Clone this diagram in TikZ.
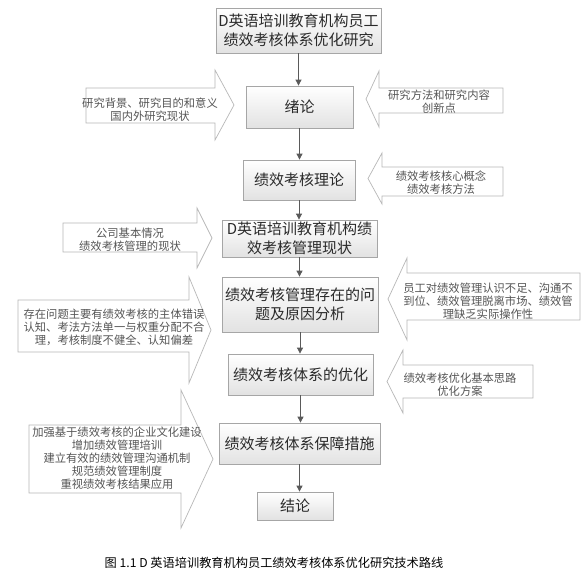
\documentclass[tikz,border=0pt]{standalone}
\usepackage{fontspec}
\setmainfont{Noto Sans CJK SC}
\usetikzlibrary{arrows.meta}
\definecolor{boxborder}{HTML}{A6A6A6}
\definecolor{boxfill}{HTML}{E2E2E2}
\definecolor{arrline}{HTML}{B8B8B8}
\definecolor{linkcol}{HTML}{5A5A5A}
\definecolor{maintext}{HTML}{2A2A2A}
\definecolor{sidetext}{HTML}{555555}
\newcommand\blockarrow[7]{%
  \draw[sidearrow] (#1,#4) -- (#2,#4) -- (#2,#6) -- (#3,{(#6+#7)/2}) -- (#2,#7) -- (#2,#5) -- (#1,#5) -- cycle;}
\tikzset{
  mainbox/.style={draw=boxborder, line width=0.8pt, top color=white, bottom color=boxfill,
    inner sep=0pt, align=center, text=maintext, font=\fontsize{15}{19}\selectfont},
  sidearrow/.style={draw=arrline, line width=0.7pt, fill=white},
  sidelabel/.style={inner sep=0pt, align=center, text=sidetext, font=\fontsize{11.3}{13}\selectfont},
  link/.style={draw=linkcol, line width=0.8pt, -{Triangle[width=6pt,length=6pt]}},
}
\begin{document}
\begin{tikzpicture}[x=1pt,y=-1pt]
\useasboundingbox[fill=white] (0,0) rectangle (585,574);

% main column
\node[mainbox, minimum width=165pt, minimum height=45pt] (t) at (298.5,30.5) {D英语培训教育机构员工\\绩效考核体系优化研究};
\node[mainbox, minimum width=107pt, minimum height=42pt] (b1) at (299.5,107) {绪论};
\node[mainbox, minimum width=112pt, minimum height=40pt] (b2) at (299,180) {绩效考核理论};
\node[mainbox, minimum width=155pt, minimum height=37pt] (b3) at (299.5,238.5) {D英语培训教育机构绩\\效考核管理现状};
\node[mainbox, minimum width=156pt, minimum height=55pt] (b4) at (300,304.5) {绩效考核管理存在的问\\题及原因分析};
\node[mainbox, minimum width=145pt, minimum height=41pt] (b5) at (300.5,374.5) {绩效考核体系的优化};
\node[mainbox, minimum width=161pt, minimum height=41pt] (b6) at (299.5,443.5) {绩效考核体系保障措施};
\node[mainbox, minimum width=76pt, minimum height=28pt] (b7) at (295,506) {结论};

\draw[link] (t.south) -- (t.south |- b1.north);
\draw[link] (b1.south) -- (b1.south |- b2.north);
\draw[link] (b2.south) -- (b2.south |- b3.north);
\draw[link] (b3.south) -- (b3.south |- b4.north);
\draw[link] (b4.south) -- (b4.south |- b5.north);
\draw[link] (b5.south) -- (b5.south |- b6.north);
\draw[link] (b6.south) -- (b6.south |- b7.north);

% side block arrows
\blockarrow{86}{215}{234}{88}{123}{70}{140}
\node[sidelabel] (a1) at (150,110) {研究背景、研究目的和意义\\国内外研究现状};

\blockarrow{503}{379}{366}{88}{113}{71}{127}
\node[sidelabel] (a2) at (439,102) {研究方法和研究内容\\创新点};

\blockarrow{503}{382}{368}{167}{196}{153}{204}
\node[sidelabel] (a3) at (441,182.5) {绩效考核核心概念\\绩效考核方法};

\blockarrow{63}{197}{212}{223}{252}{208}{268}
\node[sidelabel] (a4) at (130,240) {公司基本情况\\绩效考核管理的现状};

\blockarrow{18}{189}{211}{300}{352}{277}{383}
\node[sidelabel] (a5) at (114,327.5) {存在问题主要有绩效考核的主体错误\\认知、考法方法单一与权重分配不合\\理，考核制度不健全、认知偏差};

\blockarrow{580}{407}{388}{273}{320}{258}{340}
\node[sidelabel] (a6) at (488,301) {员工对绩效管理认识不足、沟通不\\到位、绩效管理脱离市场、绩效管\\理缺乏实际操作性};

\blockarrow{533}{403}{387}{365}{398}{350}{413}
\node[sidelabel] (a7) at (460,385) {绩效考核优化基本思路\\优化方案};

\blockarrow{29}{181}{213}{425}{493}{390}{528}
\node[sidelabel] (a8) at (117,458.5) {加强基于绩效考核的企业文化建设\\增加绩效管理培训\\建立有效的绩效管理沟通机制\\规范绩效管理制度\\重视绩效考核结果应用};

% caption
\node[inner sep=0pt, text=black, font=\fontsize{12.2}{14}\selectfont] (cap) at (274,563) {图 1.1 D 英语培训教育机构员工绩效考核体系优化研究技术路线};
\end{tikzpicture}
\end{document}
